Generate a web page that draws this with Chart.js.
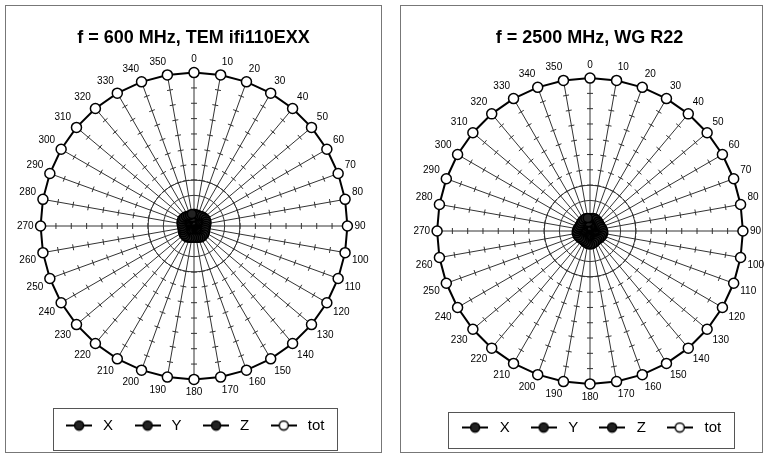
<!DOCTYPE html>
<html>
<head>
<meta charset="utf-8">
<script src="https://cdn.jsdelivr.net/npm/chart.js@4"></script>
<style>
  body { margin: 0; background: #fff; overflow: hidden; }
  .rahmen { position: absolute; border: 1px solid #777; }
  #r1 { left: 5px; top: 5px; width: 375px; height: 446px; }
  #r2 { left: 400px; top: 5px; width: 361px; height: 446px; }
  canvas { position: absolute; display: block; }
  #c1 { left: 6px; top: 6px; }
  #c2 { left: 402px; top: 6px; }
</style>
</head>
<body>
<div class="rahmen" id="r1"></div>
<div class="rahmen" id="r2"></div>
<canvas id="c1" width="375" height="446"></canvas>
<canvas id="c2" width="375" height="446"></canvas>
<script>
// Winkel (Grad)
const winkel = ['0','10','20','30','40','50','60','70','80','90','100','110','120','130','140','150','160','170',
  '180','190','200','210','220','230','240','250','260','270','280','290','300','310','320','330','340','350'];

// 600 MHz, TEM-Zelle
const x600 = [0.8,0.78,0.76,0.78,0.82,0.86,0.88,0.86,0.82,0.78,0.76,0.78,0.82,0.86,0.88,0.86,0.82,0.78,
  0.76,0.78,0.82,0.86,0.88,0.86,0.82,0.78,0.76,0.78,0.82,0.86,0.88,0.86,0.82,0.78,0.76,0.8];
const y600 = [0.55,0.6,0.62,0.6,0.55,0.5,0.48,0.5,0.55,0.6,0.62,0.6,0.55,0.5,0.48,0.5,0.55,0.6,
  0.62,0.6,0.55,0.5,0.48,0.5,0.55,0.6,0.62,0.6,0.55,0.5,0.48,0.5,0.55,0.6,0.62,0.58];
const z600 = [0.35,0.32,0.3,0.32,0.35,0.38,0.4,0.38,0.35,0.32,0.3,0.32,0.35,0.38,0.4,0.38,0.35,0.32,
  0.3,0.32,0.35,0.38,0.4,0.38,0.35,0.32,0.3,0.32,0.35,0.38,0.4,0.38,0.35,0.32,0.3,0.34];
const tot600 = [10,10,10,10,10,10,10,10,10,10,10,10,10,10,10,10,10,10,
  10,10,10,10,10,10,10,10,10,10,10,10,10,10,10,10,10,10];

// 2500 MHz, Hohlleiter R22
const x2500 = [0.84,0.86,0.88,0.86,0.82,0.78,0.76,0.78,0.82,0.86,0.88,0.86,0.82,0.78,0.76,0.78,0.82,0.86,
  0.88,0.86,0.82,0.78,0.76,0.78,0.82,0.86,0.88,0.86,0.82,0.78,0.76,0.78,0.82,0.86,0.88,0.86];
const y2500 = [0.6,0.58,0.55,0.5,0.48,0.5,0.55,0.6,0.62,0.6,0.55,0.5,0.48,0.5,0.55,0.6,0.62,0.6,
  0.55,0.5,0.48,0.5,0.55,0.6,0.62,0.6,0.55,0.5,0.48,0.5,0.55,0.6,0.62,0.6,0.58,0.6];
const z2500 = [0.32,0.35,0.38,0.4,0.38,0.35,0.32,0.3,0.32,0.35,0.38,0.4,0.38,0.35,0.32,0.3,0.32,0.35,
  0.38,0.4,0.38,0.35,0.32,0.3,0.32,0.35,0.38,0.4,0.38,0.35,0.32,0.3,0.32,0.35,0.38,0.34];
const tot2500 = [10,10,10,10,10,10,10,10,10,10,10,10,10,10,10,10,10,10,
  10,10,10,10,10,10,10,10,10,10,10,10,10,10,10,10,10,10];

const FONT = '"Liberation Sans", Arial, sans-serif';

// Legendensymbol: Linie mit Kreis
function symbol(fill) {
  const c = document.createElement('canvas');
  c.width = 26; c.height = 12;
  const g = c.getContext('2d');
  g.strokeStyle = '#000'; g.lineWidth = 2;
  g.beginPath(); g.moveTo(0, 6); g.lineTo(26, 6); g.stroke();
  g.beginPath(); g.arc(13, 6, 4.5, 0, Math.PI * 2);
  g.fillStyle = fill; g.fill(); g.lineWidth = 1.5; g.stroke();
  return c;
}

// kleine Querstriche auf den Speichen
const speichenTicks = {
  id: 'speichenTicks',
  beforeDatasetsDraw(chart) {
    const r = chart.scales.r, ctx = chart.ctx;
    ctx.save();
    ctx.strokeStyle = '#333';
    ctx.lineWidth = 1;
    for (let i = 0; i < winkel.length; i++) {
      const a = r.getIndexAngle(i) - Math.PI / 2;
      const dx = -Math.sin(a) * 3, dy = Math.cos(a) * 3;
      for (let v = 3; v < 10; v++) {
        const p = r.getPointPositionForValue(i, v);
        ctx.beginPath();
        ctx.moveTo(p.x - dx, p.y - dy);
        ctx.lineTo(p.x + dx, p.y + dy);
        ctx.stroke();
      }
    }
    ctx.restore();
  }
};

// Rahmen um die Legende
const legendenRahmen = {
  id: 'legendenRahmen',
  afterDraw(chart, args, opts) {
    const boxes = chart.legend.legendHitBoxes;
    if (!boxes.length) return;
    const l = Math.min(...boxes.map(b => b.left)) - 9.5;
    const r = Math.max(...boxes.map(b => b.left + b.width)) + 13;
    const cy = boxes[0].top + boxes[0].height / 2;
    const ctx = chart.ctx;
    ctx.save();
    ctx.strokeStyle = '#555';
    ctx.lineWidth = 1;
    ctx.strokeRect(Math.round(l) + 0.5, Math.round(cy - opts.oben) + 0.5, Math.round(r - l), opts.hoehe);
    ctx.restore();
  }
};

function reihe(label, data, fill, radius) {
  return {
    label: label,
    data: data,
    borderColor: '#000',
    borderWidth: 2,
    backgroundColor: 'transparent',
    fill: false,
    pointRadius: radius,
    pointBackgroundColor: fill,
    pointBorderColor: '#000',
    pointBorderWidth: 1.5,
    legendSymbol: symbol(fill)
  };
}

function polar(id, titel, x, y, z, tot, lay) {
  return new Chart(document.getElementById(id), {
    type: 'radar',
    data: {
      labels: winkel,
      datasets: [
        reihe('X', x, '#222', 4.5),
        reihe('Y', y, '#222', 4.5),
        reihe('Z', z, '#222', 4.5),
        reihe('tot', tot, '#fff', 5)
      ]
    },
    options: {
      responsive: false,
      animation: false,
      layout: { padding: { left: 0, right: 0, top: 0, bottom: lay.unten } },
      elements: { line: { tension: 0 } },
      scales: {
        r: {
          min: 0,
          max: 10,
          ticks: { stepSize: 1, display: false },
          grid: {
            circular: true,
            color: c => (c.tick.value >= 1 && c.tick.value <= 3) ? '#333' : 'transparent',
            lineWidth: 1
          },
          angleLines: { color: '#333', lineWidth: 1 },
          pointLabels: { font: { family: FONT, size: 10 }, color: '#000', padding: 7 }
        }
      },
      plugins: {
        title: {
          display: true,
          text: titel,
          color: '#000',
          font: { family: FONT, size: 18, weight: 'bold' },
          padding: { top: 21, bottom: lay.titelAbstand }
        },
        legend: {
          position: 'bottom',
          labels: {
            color: '#000',
            font: { family: FONT, size: 15 },
            usePointStyle: true,
            pointStyleWidth: lay.symbolBreite,
            padding: lay.abstand,
            generateLabels: chart => chart.data.datasets.map((ds, i) => ({
              text: ds.label,
              pointStyle: ds.legendSymbol,
              fillStyle: '#fff',
              strokeStyle: '#000',
              lineWidth: 0,
              fontColor: '#000',
              datasetIndex: i
            }))
          }
        },
        legendenRahmen: { oben: lay.rahmenOben, hoehe: lay.rahmenHoehe },
        tooltip: { enabled: false }
      }
    },
    plugins: [speichenTicks, legendenRahmen]
  });
}

polar('c1', 'f = 600 MHz, TEM ifi110EXX', x600, y600, z600, tot600,
  { unten: 9, titelAbstand: 5, abstand: 18, symbolBreite: 33, rahmenOben: 18, rahmenHoehe: 42 });
polar('c2', 'f = 2500 MHz, WG R22', x2500, y2500, z2500, tot2500,
  { unten: 7, titelAbstand: 10.5, abstand: 16.5, symbolBreite: 34.5, rahmenOben: 16, rahmenHoehe: 36 });
</script>
</body>
</html>
